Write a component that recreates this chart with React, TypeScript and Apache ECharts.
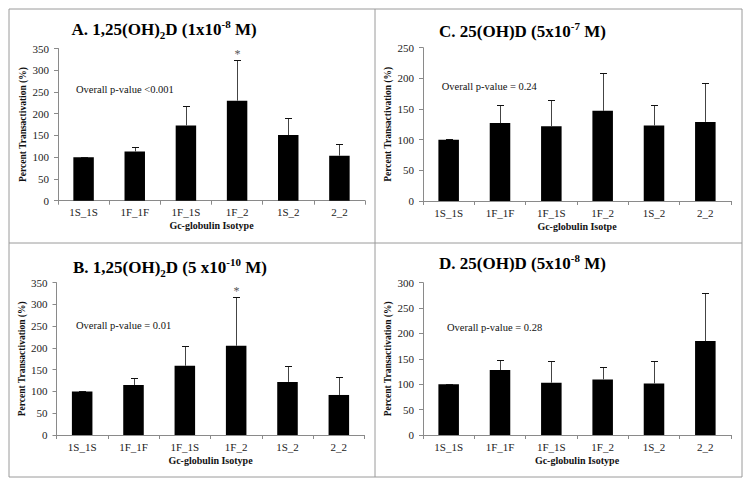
import React, { useEffect, useRef } from "react";
import * as echarts from "echarts";

const categories = ["1S_1S", "1F_1F", "1F_1S", "1F_2", "1S_2", "2_2"];

const meansA = [100, 113, 173, 230, 151, 103.5];
const errA = [0.5, 11.5, 44.5, 92.5, 40, 27.5];
const sigA = ["", "", "", "*", "", ""];

const meansB = [100, 115, 159, 205, 122, 92];
const errB = [0.5, 15, 45, 111, 36, 42];
const sigB = ["", "", "", "*", "", ""];

const meansC = [100, 127, 122, 147, 123, 129];
const errC = [0.5, 29, 42, 61, 34, 64];
const sigC = ["", "", "", "", "", ""];

const meansD = [100, 128, 103, 109.5, 101.5, 185];
const errD = [0.5, 19, 43, 24.5, 44, 95.5];
const sigD = ["", "", "", "", "", ""];

const yMaxA = 350;
const yMaxB = 350;
const yMaxC = 250;
const yMaxD = 300;
const yStep = 50;

const titleA = ["A. 1,25(OH)", "2", "D (1x10", "-8", " M)"];
const titleB = ["B. 1,25(OH)", "2", "D (5 x10", "-10", " M)"];
const titleC = ["C. 25(OH)D (5x10", "", "", "-7", " M)"];
const titleD = ["D. 25(OH)D (5x10", "", "", "-8", " M)"];

const pA = "Overall p-value <0.001";
const pB = "Overall p-value = 0.01";
const pC = "Overall p-value = 0.24";
const pD = "Overall p-value = 0.28";

const xNameA = "Gc-globulin Isotype";
const xNameB = "Gc-globulin Isotype";
const xNameC = "Gc-globulin Isotpe";
const xNameD = "Gc-globulin Isotype";
const yName = "Percent Transactivation (%)";

const FONT = "'Liberation Serif', 'Times New Roman', serif";

const panels = [
  { means: meansA, err: errA, sig: sigA, yMax: yMaxA, title: titleA, p: pA, xName: xNameA,
    grid: { left: 58, top: 48.5, width: 307, height: 152.2 }, titlePos: { x: 71.5, y: 18.5 }, pPos: { x: 76, y: 89 } },
  { means: meansB, err: errB, sig: sigB, yMax: yMaxB, title: titleB, p: pB, xName: xNameB,
    grid: { left: 56.5, top: 282.7, width: 308, height: 152.3 }, titlePos: { x: 73, y: 256 }, pPos: { x: 76, y: 325.7 } },
  { means: meansC, err: errC, sig: sigC, yMax: yMaxC, title: titleC, p: pC, xName: xNameC,
    grid: { left: 423, top: 47.7, width: 308, height: 153.3 }, titlePos: { x: 439, y: 20 }, pPos: { x: 441.7, y: 86 } },
  { means: meansD, err: errD, sig: sigD, yMax: yMaxD, title: titleD, p: pD, xName: xNameD,
    grid: { left: 423, top: 282.7, width: 308, height: 152.3 }, titlePos: { x: 439, y: 252.5 }, pPos: { x: 447, y: 327.3 } },
];

function titleText(parts: string[]) {
  let s = `{b|${parts[0]}}`;
  if (parts[1]) s += `{sub|${parts[1]}}`;
  if (parts[2]) s += `{b|${parts[2]}}`;
  if (parts[3]) s += `{sup|${parts[3]}}`;
  if (parts[4]) s += `{b|${parts[4]}}`;
  return s;
}

export default function App() {
  const ref = useRef<HTMLDivElement>(null);
  useEffect(() => {
    document.body.style.margin = "0";
    if (!ref.current) return;
    const chart = echarts.init(ref.current, undefined, { renderer: "svg" });

    const grids: any[] = [];
    const xAxes: any[] = [];
    const yAxes: any[] = [];
    const series: any[] = [];
    const graphics: any[] = [
      { type: "rect", shape: { x: 9, y: 9, width: 733, height: 468 }, style: { fill: "none", stroke: "#9a9a9a", lineWidth: 1 }, silent: true },
      { type: "line", shape: { x1: 375, y1: 9, x2: 375, y2: 477 }, style: { stroke: "#9a9a9a", lineWidth: 1 }, silent: true },
      { type: "line", shape: { x1: 9, y1: 243, x2: 742, y2: 243 }, style: { stroke: "#9a9a9a", lineWidth: 1 }, silent: true },
    ];

    panels.forEach((pn, i) => {
      grids.push({ ...pn.grid, containLabel: false });
      xAxes.push({
        type: "category",
        gridIndex: i,
        data: categories,
        name: pn.xName,
        nameLocation: "middle",
        nameGap: 20,
        nameTextStyle: { fontFamily: FONT, fontSize: 10, fontWeight: "bold", color: "#111" },
        axisLine: { lineStyle: { color: "#8a8a8a", width: 1 } },
        axisTick: { show: true, length: 4, lineStyle: { color: "#8a8a8a" } },
        axisLabel: { fontFamily: FONT, fontSize: 11, color: "#222", margin: 6, interval: 0 },
      });
      yAxes.push({
        type: "value",
        gridIndex: i,
        min: 0,
        max: pn.yMax,
        interval: yStep,
        name: yName,
        nameLocation: "middle",
        nameGap: 30,
        nameTextStyle: { fontFamily: FONT, fontSize: 9.5, fontWeight: "bold", color: "#111" },
        axisLine: { show: true, lineStyle: { color: "#8a8a8a", width: 1 } },
        axisTick: { show: true, length: 4, lineStyle: { color: "#8a8a8a" } },
        axisLabel: { fontFamily: FONT, fontSize: 11, color: "#222", margin: 9 },
        splitLine: { show: false },
      });
      series.push({
        type: "bar",
        xAxisIndex: i,
        yAxisIndex: i,
        data: pn.means,
        barWidth: "40%",
        itemStyle: { color: "#000" },
        silent: true,
      });
      const sig = pn.sig;
      series.push({
        type: "custom",
        xAxisIndex: i,
        yAxisIndex: i,
        z: 5,
        silent: true,
        data: pn.means.map((m, k) => [k, m, m + pn.err[k]]),
        encode: { x: 0, y: [1, 2] },
        renderItem: (params: any, api: any) => {
          const idx = api.value(0);
          const m = api.value(1);
          const h = api.value(2);
          const base = api.coord([idx, m]);
          const top = api.coord([idx, h]);
          const x = Math.round(top[0]) + 0.5;
          const ty = Math.round(top[1]) + 0.5;
          const children: any[] = [
            { type: "line", shape: { x1: x, y1: base[1], x2: x, y2: ty }, style: { stroke: "#444", lineWidth: 1 } },
            { type: "line", shape: { x1: x - 3.5, y1: ty, x2: x + 3.5, y2: ty }, style: { stroke: "#111", lineWidth: 1 } },
          ];
          const s = sig[params.dataIndex];
          if (s) {
            children.push({
              type: "text",
              style: { text: s, x: x, y: ty - 1, align: "center", verticalAlign: "bottom", fontSize: 12, fontFamily: FONT, fill: "#555" },
            });
          }
          return { type: "group", children };
        },
      });
      graphics.push({
        type: "text",
        x: pn.titlePos.x,
        y: pn.titlePos.y,
        silent: true,
        style: {
          text: titleText(pn.title),
          verticalAlign: "top",
          align: "left",
          rich: {
            b: { fontFamily: FONT, fontSize: 17, fontWeight: "bold", fill: "#000", lineHeight: 22 },
            sub: { fontFamily: FONT, fontSize: 11, fontWeight: "bold", fill: "#000", lineHeight: 11, verticalAlign: "bottom" },
            sup: { fontFamily: FONT, fontSize: 11, fontWeight: "bold", fill: "#000", lineHeight: 11, verticalAlign: "top" },
          },
        },
      });
      graphics.push({
        type: "text",
        x: pn.pPos.x,
        y: pn.pPos.y,
        silent: true,
        style: { text: pn.p, fontFamily: FONT, fontSize: 10.5, fill: "#111", verticalAlign: "middle", align: "left" },
      });
    });

    chart.setOption({
      animation: false,
      backgroundColor: "#fff",
      grid: grids,
      xAxis: xAxes,
      yAxis: yAxes,
      series,
      graphic: graphics,
    });
    return () => chart.dispose();
  }, []);
  return (
    <div
      ref={ref}
      style={{ position: "absolute", left: 0, top: 0, width: 751, height: 487, background: "#fff" }}
    />
  );
}
